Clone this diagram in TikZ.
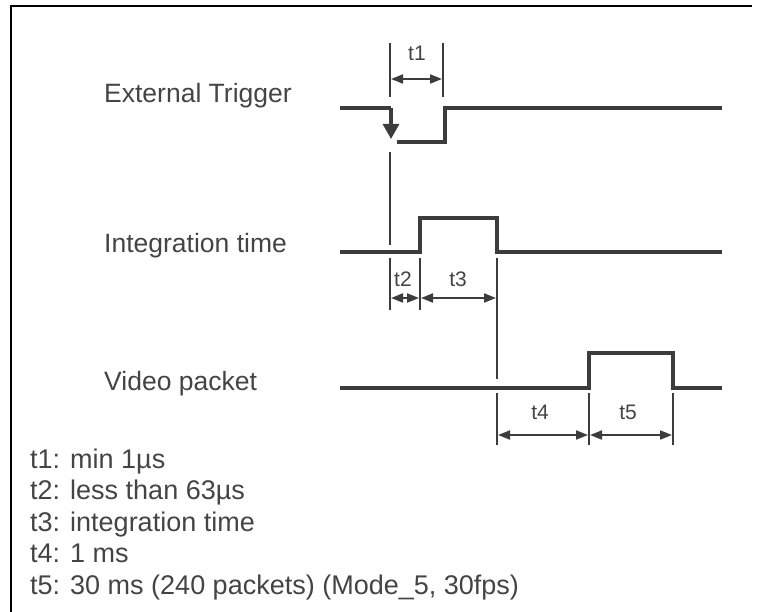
\documentclass[tikz,border=0pt]{standalone}
\usepackage{fontspec}
\setmainfont{Liberation Sans}
\usetikzlibrary{arrows.meta}
\definecolor{ink}{HTML}{3C3C3C}
\definecolor{txt}{HTML}{444444}
\tikzset{
  sig/.style={draw=ink, line width=3.2pt, line join=miter},
  ext/.style={draw=ink, line width=1.7pt},
  dim/.style={draw=ink, line width=1.8pt, {Triangle[length=12pt,width=9pt]}-{Triangle[length=12pt,width=9pt]}},
  big/.style={text=txt, font=\fontsize{26.5}{31}\selectfont, inner sep=0pt, anchor=base west},
  legend/.style={text=txt, font=\fontsize{27}{31}\selectfont, inner sep=0pt, anchor=base west},
  small/.style={text=txt, font=\fontsize{21}{25}\selectfont, inner sep=0pt},
}
\begin{document}
\begin{tikzpicture}[x=1pt, y=-1pt]
\useasboundingbox (0,0) rectangle (762,612);
% frame (top and left only visible)
\draw[black, line width=2.4pt] (11,612) -- (11,6) -- (752,6);

% signal labels
\node[big] (lext) at (104,103) {External Trigger};
\node[big] (lint) at (104,252) {Integration time};
\node[big] (lvid) at (104,390) {Video packet};

% External trigger
\coordinate (e0) at (340,108);
\coordinate (e1) at (391,108);
\coordinate (e2) at (391,139);
\coordinate (e3) at (397,142);
\coordinate (e4) at (445,142);
\coordinate (e5) at (445,108);
\coordinate (e6) at (722,108);
\draw[sig] (e0) -- (e1);
\draw[sig, -{Triangle[length=15pt,width=16pt]}] (e1) -- (e2);
\draw[sig] (e3) -- (e4) -- (e5) -- (e6);

% t1
\coordinate (a1t) at (390,43); \coordinate (a1b) at (390,97);
\coordinate (b1t) at (443,43); \coordinate (b1b) at (443,97);
\draw[ext] (a1t) -- (a1b);
\draw[ext] (b1t) -- (b1b);
\coordinate (t1l) at (391,79); \coordinate (t1r) at (442,79);
\draw[dim] (t1l) -- (t1r);
\node[small] (t1) at (417,53) {t1};

% vertical from trigger down
\coordinate (v1t) at (390,152); \coordinate (v1b) at (390,245);
\draw[ext] (v1t) -- (v1b);

% Integration time
\coordinate (i0) at (340,252);
\coordinate (i1) at (420,252);
\coordinate (i2) at (420,218);
\coordinate (i3) at (497,218);
\coordinate (i4) at (497,252);
\coordinate (i5) at (722,252);
\draw[sig] (i0) -- (i1) -- (i2) -- (i3) -- (i4) -- (i5);

% t2, t3 extension lines
\coordinate (x2t) at (390,258); \coordinate (x2b) at (390,310);
\coordinate (x3t) at (420,258); \coordinate (x3b) at (420,310);
\coordinate (x4t) at (497,258); \coordinate (x4b) at (497,379);
\draw[ext] (x2t) -- (x2b);
\draw[ext] (x3t) -- (x3b);
\draw[ext] (x4t) -- (x4b);
\coordinate (t2l) at (391,298); \coordinate (t2r) at (419,298);
\coordinate (t3l) at (421,298); \coordinate (t3r) at (496,298);
\draw[dim] (t2l) -- (t2r);
\draw[dim] (t3l) -- (t3r);
\node[small] (t2) at (403,279) {t2};
\node[small] (t3) at (458,279) {t3};

% Video packet
\coordinate (p0) at (340,388);
\coordinate (p1) at (589,388);
\coordinate (p2) at (589,353);
\coordinate (p3) at (673,353);
\coordinate (p4) at (673,388);
\coordinate (p5) at (722,388);
\draw[sig] (p0) -- (p1) -- (p2) -- (p3) -- (p4) -- (p5);

% t4, t5 extension lines
\coordinate (y1t) at (497,393); \coordinate (y1b) at (497,445);
\coordinate (y2t) at (589,393); \coordinate (y2b) at (589,445);
\coordinate (y3t) at (673,393); \coordinate (y3b) at (673,445);
\draw[ext] (y1t) -- (y1b);
\draw[ext] (y2t) -- (y2b);
\draw[ext] (y3t) -- (y3b);
\coordinate (t4l) at (498,435); \coordinate (t4r) at (588,435);
\coordinate (t5l) at (590,435); \coordinate (t5r) at (672,435);
\draw[dim] (t4l) -- (t4r);
\draw[dim] (t5l) -- (t5r);
\node[small] (t4) at (540,412) {t4};
\node[small] (t5) at (628,412) {t5};

% legend
\node[legend] (n1) at (30,468) {t1: min 1µs};
\node[legend] (n2) at (30,499.5) {t2: less than 63µs};
\node[legend] (n3) at (30,531) {t3: integration time};
\node[legend] (n4) at (30,562.5) {t4: 1 ms};
\node[legend] (n5) at (30,594) {t5: 30 ms (240 packets) (Mode\_5, 30fps)};
\end{tikzpicture}
\end{document}
